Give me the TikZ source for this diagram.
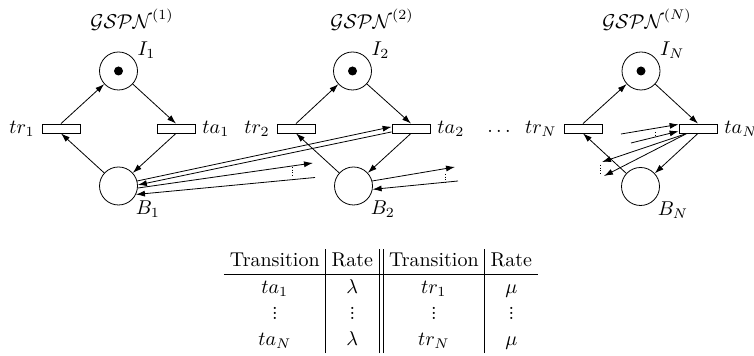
\documentclass[tikz,border=0pt]{standalone}
\usepackage{tikz}
\usetikzlibrary{positioning,arrows.meta}
\newcommand{\smallvdots}{\vbox{\baselineskip2.7pt\lineskiplimit0pt\kern3pt\hbox{.}\hbox{.}\hbox{.}}}

\begin{document}
\begin{tikzpicture}[x=0.5pt,y=-0.5pt,>={Latex[length=4.5pt,width=3pt]},
    place/.style={draw,circle,minimum size=19pt,inner sep=0pt},
    trans/.style={draw,minimum width=19pt,minimum height=4.5pt,inner sep=0pt},
    token/.style={fill,circle,minimum size=4.5pt,inner sep=0pt},
    lbl/.style={inner sep=1pt},
    dots/.style={densely dotted,line width=0.3pt}]
  \useasboundingbox (0,0) rectangle (754,356);
  % net 1
  \node (g1) at (132,20) {$\mathcal{GSPN}^{(1)}$};
  \node[place,label={[lbl]30:$I_1$}] (I1) at (118.5,71) {};
  \node[token] (k1) at (I1) {};
  \node[trans,label=left:$tr_1$] (tr1) at (61,128.5) {};
  \node[trans,label=right:$ta_1$] (ta1) at (176,128.5) {};
  \node[place,label={[lbl]-40:$B_1$}] (B1) at (118.5,186) {};
  \draw[->] (tr1.north) -- (I1); \draw[->] (I1) -- (ta1.north);
  \draw[->] (ta1.south) -- (B1); \draw[->] (B1) -- (tr1.south);
  % net 2
  \node (g2) at (372,20) {$\mathcal{GSPN}^{(2)}$};
  \node[place,label={[lbl]30:$I_2$}] (I2) at (352.5,71) {};
  \node[token] (k2) at (I2) {};
  \node[trans,label=left:$tr_2$] (tr2) at (296,128.5) {};
  \node[trans,label=right:$ta_2$] (ta2) at (411,128.5) {};
  \node[place,label={[lbl]-40:$B_2$}] (B2) at (353.5,186) {};
  \draw[->] (tr2.north) -- (I2); \draw[->] (I2) -- (ta2.north);
  \draw[->] (ta2.south) -- (B2); \draw[->] (B2) -- (tr2.south);
  % net N
  \node (gN) at (647,20) {$\mathcal{GSPN}^{(N)}$};
  \node[place,label={[lbl]30:$I_N$}] (IN) at (641,71) {};
  \node[token] (kN) at (IN) {};
  \node[trans,label=left:$tr_N$] (trN) at (583,128.5) {};
  \node[trans,label=right:$ta_N$] (taN) at (698,128.5) {};
  \node[place,label={[lbl]-40:$B_N$}] (BN) at (640.5,186.5) {};
  \draw[->] (trN.north) -- (IN); \draw[->] (IN) -- (taN.north);
  \draw[->] (taN.south) -- (BN); \draw[->] (BN) -- (trN.south);
  \node (more) at (499,131) {$\dots$};
  % arcs between the nets
  \coordinate (o1) at (313,163); \coordinate (i1) at (315,177.5);
  \draw[->] (B1.15) -- (ta2.175); \draw[->] (ta2.190) -- (B1.3);
  \draw[->] (B1.-6) -- (o1); \draw[->] (i1) -- (B1.-26);
  \draw[dots] (292,167) -- (292,176);
  \coordinate (o2) at (455,167); \coordinate (i2) at (458,181);
  \draw[->] (B2.15) -- (o2); \draw[->] (i2) -- (B2.-10);
  \draw[dots] (445,174) -- (445,182);
  \coordinate (iN1) at (621,134); \coordinate (iN2) at (631,143);
  \draw[->] (iN1) -- (taN.168); \draw[->] (iN2) -- (taN.188);
  \draw[dots] (655,132) -- (655,137);
  \coordinate (oN1) at (602,162); \coordinate (oN2) at (604,176);
  \draw[->] (taN.204) -- (oN1); \draw[->] (taN.204) -- (oN2);
  \draw[dots] (600,165) -- (600,173);
  % rates
  \node (rates) at (381,301) {\setlength{\tabcolsep}{3pt}\renewcommand{\arraystretch}{1.07}%
    \begin{tabular}{c|c||c|c}
      Transition & Rate & Transition & Rate\\ \hline
      $ta_1$ & $\lambda$ & $tr_1$ & $\mu$\\
      \smallvdots & \smallvdots & \smallvdots & \smallvdots\\
      $ta_N$ & $\lambda$ & $tr_N$ & $\mu$
    \end{tabular}};
\end{tikzpicture}
\end{document}
